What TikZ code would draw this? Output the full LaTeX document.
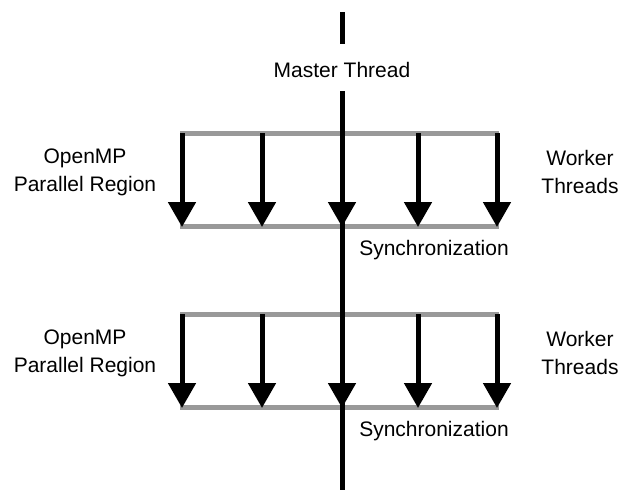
\documentclass[tikz,border=0pt]{standalone}
\usepackage{fontspec}
\setmainfont{Liberation Sans}
\usetikzlibrary{arrows.meta}
\begin{document}
\begin{tikzpicture}[x=1pt,y=-1pt,
  bar/.style={line width=5pt,color=black!40},
  master/.style={line width=5pt,color=black},
  fork/.style={line width=5pt,color=black,-{Triangle[width=27pt,length=25pt]}},
  lbl/.style={font=\fontsize{21}{28}\selectfont,align=center,inner sep=0pt}]
\useasboundingbox (0,0) rectangle (621,490);

% master thread
\coordinate (m0) at (342,12);
\coordinate (m1) at (342,44);
\node[lbl] (mt) at (342,70) {Master Thread};
\coordinate (m2) at (342,91);
\coordinate (m3) at (342,490);

% two parallel regions
\foreach \r/\y in {a/133,b/314}{
  \coordinate (\r tl) at (180,\y);
  \coordinate (\r tr) at (499,\y);
  \coordinate (\r bl) at (180,\y+93);
  \coordinate (\r br) at (499,\y+93);
  \draw[bar] (\r tl) -- (\r tr);
  \draw[bar] (\r bl) -- (\r br);
  \foreach \i/\x in {1/182,2/262,3/342,4/418,5/497}{
    \coordinate (\r s\i) at (\x,\y);
    \coordinate (\r e\i) at (\x,\y+94);
  }
  \node[lbl] (\r left) at (85,\y+39) {OpenMP\\Parallel Region};
  \node[lbl] (\r right) at (580,\y+39) {Worker\\Threads};
  \node[lbl] (\r sync) at (434,\y+117) {Synchronization};
}

\draw[master] (m0) -- (m1);
\draw[master] (m2) -- (m3);

\foreach \r in {a,b}{
  \foreach \i in {1,2,3,4,5}{
    \draw[fork] (\r s\i) -- (\r e\i);
  }
}
\end{tikzpicture}
\end{document}
